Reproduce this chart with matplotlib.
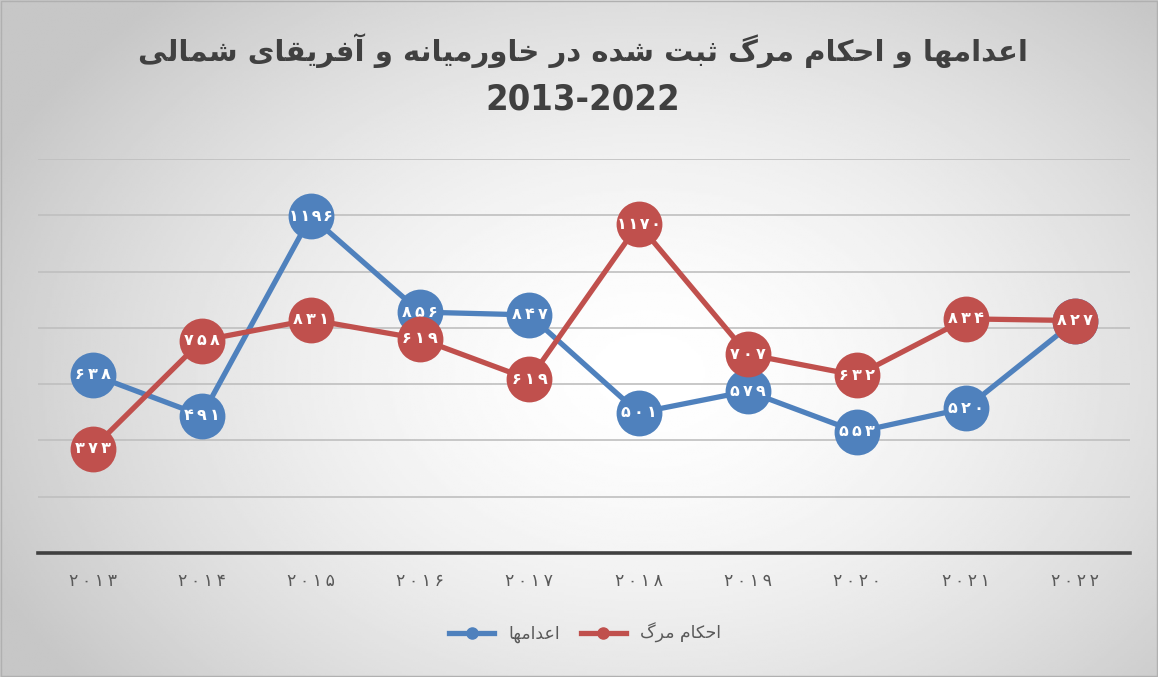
import numpy as np
import matplotlib
matplotlib.use("Agg")
import matplotlib.pyplot as plt
from matplotlib.lines import Line2D

# data
years = [2013, 2014, 2015, 2016, 2017, 2018, 2019, 2020, 2021, 2022]
executions = [634, 488, 1197, 856, 846, 498, 575, 430, 515, 825]
sentences = [371, 755, 829, 761, 617, 1169, 706, 631, 832, 826]
# numbers printed inside the markers (as shown in the picture)
executions_labels = [638, 491, 1196, 856, 847, 501, 579, 553, 520, 825]
sentences_labels = [373, 758, 831, 619, 619, 1170, 707, 632, 834, 827]

title_fa = "اعدامها و احکام مرگ ثبت شده در خاورمیانه و آفریقای شمالی"
title_years = "2013-2022"
name_exec = "اعدامها"
name_sent = "احکام مرگ"

BLUE = "#4F81BD"
RED = "#C0504D"

# --- minimal arabic/persian shaping (matplotlib has no bidi/shaping) ---
FORMS = {
    "ا": (0xFE8D, 0xFE8E, None, None), "آ": (0xFE81, 0xFE82, None, None),
    "د": (0xFEA9, 0xFEAA, None, None), "ر": (0xFEAD, 0xFEAE, None, None),
    "و": (0xFEED, 0xFEEE, None, None),
    "ب": (0xFE8F, 0xFE90, 0xFE91, 0xFE92), "ت": (0xFE95, 0xFE96, 0xFE97, 0xFE98),
    "ث": (0xFE99, 0xFE9A, 0xFE9B, 0xFE9C), "ح": (0xFEA1, 0xFEA2, 0xFEA3, 0xFEA4),
    "خ": (0xFEA5, 0xFEA6, 0xFEA7, 0xFEA8), "ش": (0xFEB5, 0xFEB6, 0xFEB7, 0xFEB8),
    "ع": (0xFEC9, 0xFECA, 0xFECB, 0xFECC), "ف": (0xFED1, 0xFED2, 0xFED3, 0xFED4),
    "ق": (0xFED5, 0xFED6, 0xFED7, 0xFED8), "ک": (0xFB8E, 0xFB8F, 0xFB90, 0xFB91),
    "گ": (0xFB92, 0xFB93, 0xFB94, 0xFB95), "ل": (0xFEDD, 0xFEDE, 0xFEDF, 0xFEE0),
    "م": (0xFEE1, 0xFEE2, 0xFEE3, 0xFEE4), "ن": (0xFEE5, 0xFEE6, 0xFEE7, 0xFEE8),
    "ه": (0xFEE9, 0xFEEA, 0xFEEB, 0xFEEC), "ی": (0xFBFC, 0xFBFD, 0xFBFE, 0xFBFF),
}


def dual(c):
    return c in FORMS and FORMS[c][2] is not None


def shape(s):
    out = []
    for i, c in enumerate(s):
        if c not in FORMS:
            out.append(c)
            continue
        prev = s[i - 1] if i > 0 else ""
        nxt = s[i + 1] if i + 1 < len(s) else ""
        jp = dual(prev)
        jn = dual(c) and nxt in FORMS
        iso, fin, ini, med = FORMS[c]
        if jp and jn:
            code = med
        elif jp:
            code = fin
        elif jn:
            code = ini
        else:
            code = iso
        out.append(chr(code))
    return "".join(out)[::-1]


def fa_digits(n, sep=""):
    return sep.join(str(n).translate(str.maketrans("0123456789", "۰۱۲۳۴۵۶۷۸۹")))


def marker_text(n):
    # wider spacing for 3-digit numbers, tighter for 4-digit ones
    return fa_digits(n, "\u2009" if n < 1000 else "\u200a")


fig = plt.figure(figsize=(11.58, 6.77), dpi=100)

# radial gray background
bg = fig.add_axes([0, 0, 1, 1], zorder=-10)
yy, xx = np.mgrid[0:1:300j, 0:1:500j]
r = np.sqrt(((xx - 0.56) / 0.62) ** 2 + ((yy - 0.55) / 0.75) ** 2)
t = np.clip(r, 0, 1) ** 1.6
img = 1.0 - 0.22 * t
bg.imshow(img, cmap="gray", vmin=0, vmax=1, extent=[0, 1, 0, 1], aspect="auto")
bg.set_xlim(0, 1)
bg.set_ylim(0, 1)
bg.axis("off")
fig.add_artist(plt.Rectangle((0.001, 0.002), 0.998, 0.996, fill=False,
                             edgecolor="#b0b0b0", lw=1, transform=fig.transFigure))

ax = fig.add_axes([0.0328, 0.1832, 0.9430, 0.5819])
ax.patch.set_alpha(0)
x = np.arange(len(years))

ax.plot(x, executions, color=BLUE, lw=3.8, marker="o", markersize=33,
        markeredgewidth=0, zorder=3)
for xi, v, lab in zip(x, executions, executions_labels):
    ax.text(xi, v, marker_text(lab), color="white", fontsize=11.5, fontweight="bold",
            ha="center", va="center", zorder=4)
ax.plot(x, sentences, color=RED, lw=3.8, marker="o", markersize=33,
        markeredgewidth=0, zorder=5)
for xi, v, lab in zip(x, sentences, sentences_labels):
    ax.text(xi, v, marker_text(lab), color="white", fontsize=11.5, fontweight="bold",
            ha="center", va="center", zorder=6)

ax.set_xlim(-0.5, 9.5)
ax.set_ylim(0, 1400)
ax.set_yticks(range(0, 1401, 200))
ax.set_yticklabels([])
ax.grid(axis="y", color="#bfbfbf", lw=1.2)
ax.set_axisbelow(True)
ax.set_xticks(x)
ax.set_xticklabels([fa_digits(y, "\u2009") for y in years], color="#595959", fontsize=12.5)
ax.tick_params(length=0, pad=14)
for side in ["top", "left", "right"]:
    ax.spines[side].set_visible(False)
ax.spines["bottom"].set_color("#404040")
ax.spines["bottom"].set_linewidth(2.6)

fig.text(0.503, 0.925, shape(title_fa), ha="center", va="center", fontsize=21,
         fontweight="bold", color="#404040")
fig.text(0.503, 0.853, title_years, ha="center", va="center", fontsize=26,
         fontweight="bold", color="#404040", fontstretch="condensed")

handles = [Line2D([], [], color=BLUE, lw=3.8, marker="o", markersize=8),
           Line2D([], [], color=RED, lw=3.8, marker="o", markersize=8)]
fig.legend(handles, [shape(name_exec), shape(name_sent)], loc="center",
           bbox_to_anchor=(0.505, 0.065), ncol=2, frameon=False, fontsize=12.5,
           labelcolor="#595959", handlelength=2.6, columnspacing=1.2)

fig.savefig("out.png", dpi=100)
